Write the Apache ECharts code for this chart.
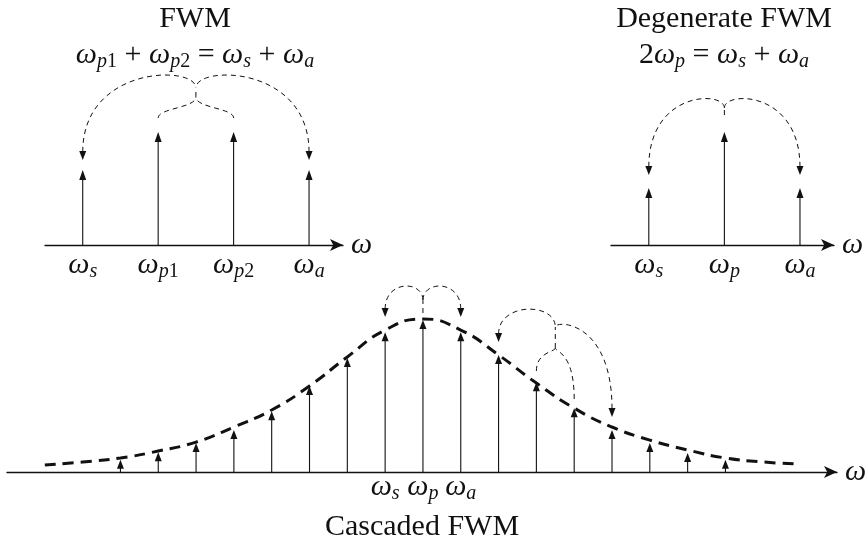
<!DOCTYPE html>
<html><head><meta charset="utf-8">
<script src="https://cdn.jsdelivr.net/npm/echarts@6/dist/echarts.min.js"></script>
<style>html,body{margin:0;padding:0;background:#fff}#c{width:868px;height:546px}</style>
</head><body><div id="c"></div>
<script>
const SERIF = '"Liberation Serif", "DejaVu Serif", serif';
const INK = '#111';

// ---- FWM (non-degenerate) ----
const fwmFreq = [1, 2, 3, 4];
const fwmAmp = [0.664, 1.0, 1.0, 0.664];
const fwmLabels = ['s', 'p1', 'p2', 'a'];
// arcs: [fromFreq, fromAmp, toFreq, toAmp, ctrlAmp, arrowAtStart]
const fwmArcs = [
  [1, 0.752, 2.5, 1.39, 1.593, 1],
  [4, 0.752, 2.5, 1.39, 1.593, 1],
  [2, 1.133, 2.5, 1.31, 1.212, 0],
  [3, 1.133, 2.5, 1.31, 1.212, 0]
];
const fwmStubs = [[2.5, 1.31, 1.39]];

// ---- Degenerate FWM ----
const degFreq = [1, 2, 3];
const degAmp = [0.504, 1.0, 0.504];
const degLabels = ['s', 'p', 'a'];
const degArcs = [
  [1, 0.62, 2, 1.212, 1.367, 1],
  [3, 0.62, 2, 1.212, 1.367, 1]
];
const degStubs = [[2, 1.15, 1.212]];

// ---- Cascaded FWM ----
const casFreq = [-8, -7, -6, -5, -4, -3, -2, -1, 0, 1, 2, 3, 4, 5, 6, 7, 8];
const casAmp = [0.08, 0.13, 0.19, 0.276, 0.40, 0.566, 0.75, 0.92, 1.0, 0.92, 0.77, 0.59, 0.42, 0.276, 0.19, 0.125, 0.08];
const envFreq = [-10, -9, -8, -7, -6, -5, -4, -3, -2, -1, 0, 1, 2, 3, 4, 5, 6, 7, 8, 9, 9.85];
const envAmp = [0.046, 0.066, 0.092, 0.138, 0.197, 0.296, 0.408, 0.566, 0.757, 0.934, 1.007, 0.934, 0.77, 0.585, 0.42, 0.296, 0.21, 0.145, 0.092, 0.066, 0.053];
const casLabelFreq = [-1, 0, 1];
const casLabels = ['s', 'p', 'a'];
const casArcs = [
  [-1, 1.02, 0, 1.13, 1.263, 1],
  [1, 1.02, 0, 1.13, 1.263, 1],
  [2, 0.855, 3.5, 0.954, 1.118, 1],
  [5, 0.362, 3.5, 0.954, 1.0, 1],
  [3, 0.671, 3.5, 0.816, 0.79, 0],
  [4, 0.487, 3.5, 0.816, 0.79, 0]
];
const casStubs = [[0, 1.046, 1.13], [3.5, 0.816, 0.954]];

const RICH = {
  w: { fontFamily: SERIF, fontSize: 30, fontStyle: 'italic', lineHeight: 30, verticalAlign: 'top', fill: INK, color: INK },
  s: { fontFamily: SERIF, fontSize: 20, fontStyle: 'italic', lineHeight: 20, padding: [12, 0, 0, 0], verticalAlign: 'top', fill: INK, color: INK },
  u: { fontFamily: SERIF, fontSize: 20, lineHeight: 20, padding: [12, 0, 0, 0], verticalAlign: 'top', fill: INK, color: INK },
  n: { fontFamily: SERIF, fontSize: 30, lineHeight: 30, verticalAlign: 'top', fill: INK, color: INK }
};
function omega(sub) {
  const m = sub.match(/^([a-z]+)(\d*)$/);
  return '{w|ω}{s|' + m[1] + '}' + (m[2] ? '{u|' + m[2] + '}' : '');
}

function stemRender(ahLen, ahW) {
  return function (params, api) {
    const x = api.value(0), y = api.value(1);
    const b = api.coord([x, 0]), t = api.coord([x, y]);
    return { type: 'group', children: [
      { type: 'line', shape: { x1: b[0], y1: b[1], x2: t[0], y2: t[1] + ahLen - 1 }, style: { stroke: INK, lineWidth: 1.1 } },
      { type: 'polygon', shape: { points: [[t[0], t[1]], [t[0] - ahW / 2, t[1] + ahLen], [t[0] + ahW / 2, t[1] + ahLen]] }, style: { fill: INK } }
    ] };
  };
}
function labelRender(labels, dy) {
  return function (params, api) {
    const b = api.coord([api.value(0), 0]);
    return { type: 'text', x: b[0], y: b[1] + dy,
      style: { text: omega(labels[params.dataIndex]), rich: RICH, align: 'center', verticalAlign: 'top', fill: INK } };
  };
}
function arcRender(params, api) {
  const x0 = api.value(0), y0 = api.value(1), x3 = api.value(2), y3 = api.value(3), c = api.value(4), arrow = api.value(5);
  const p0 = api.coord([x0, y0]), p1 = api.coord([x0, c]), p2 = api.coord([x3, c]), p3 = api.coord([x3, y3]);
  const ah = arrow ? 9 : 0;
  const children = [{ type: 'bezierCurve',
    shape: { x1: p0[0], y1: p0[1] - ah + 1, cpx1: p1[0], cpy1: p1[1], cpx2: p2[0], cpy2: p2[1], x2: p3[0], y2: p3[1] },
    style: { stroke: INK, fill: null, lineWidth: 1, lineDash: [5, 4] } }];
  if (arrow) children.push({ type: 'polygon',
    shape: { points: [[p0[0], p0[1]], [p0[0] - 3.5, p0[1] - ah], [p0[0] + 3.5, p0[1] - ah]] }, style: { fill: INK } });
  return { type: 'group', children };
}
function stubRender(params, api) {
  const a = api.coord([api.value(0), api.value(1)]), b = api.coord([api.value(0), api.value(2)]);
  return { type: 'line', shape: { x1: a[0], y1: a[1], x2: b[0], y2: b[1] }, style: { stroke: INK, lineWidth: 1, lineDash: [5, 4] } };
}

function xAxisDef(gi, min, max) {
  return { type: 'value', gridIndex: gi, min, max, name: 'ω', nameLocation: 'end', nameGap: 8,
    nameTextStyle: { fontFamily: SERIF, fontSize: 30, fontStyle: 'italic', color: INK, align: 'left', verticalAlign: 'middle', padding: [0, 0, 6, 0] },
    axisLine: { show: true, onZero: false, symbol: ['none', 'arrow'], symbolSize: [9, 13], lineStyle: { color: INK, width: 1.3 } },
    axisTick: { show: false }, axisLabel: { show: false }, splitLine: { show: false } };
}
function yAxisDef(gi, max) {
  return { type: 'value', gridIndex: gi, min: 0, max, show: false, splitLine: { show: false } };
}
const zip = (a, b) => a.map((v, i) => [v, b[i]]);
function custom(gi, data, renderItem) {
  return { type: 'custom', xAxisIndex: gi, yAxisIndex: gi, data, renderItem, silent: true, clip: false };
}

const chart = echarts.init(document.getElementById('c'), null, { renderer: 'canvas' });
chart.setOption({
  animation: false,
  backgroundColor: '#fff',
  grid: [
    { left: 45, width: 298, top: 19, height: 226, containLabel: false, outerBoundsMode: 'none' },
    { left: 611, width: 223, top: 19, height: 226, containLabel: false, outerBoundsMode: 'none' },
    { left: 7, width: 830, top: 274.4, height: 197.6, containLabel: false, outerBoundsMode: 'none' }
  ],
  xAxis: [xAxisDef(0, 0.5, 4.45), xAxisDef(1, 0.5, 3.45), xAxisDef(2, -11, 10.95)],
  yAxis: [yAxisDef(0, 2), yAxisDef(1, 2), yAxisDef(2, 1.3)],
  graphic: [
    { type: 'text', x: 195, y: 4, style: { text: 'FWM', fontFamily: SERIF, fontSize: 30, fill: INK, align: 'center', verticalAlign: 'top' } },
    { type: 'text', x: 195, y: 40, style: { text: omega('p1') + '{n| + }' + omega('p2') + '{n| = }' + omega('s') + '{n| + }' + omega('a'), rich: RICH, align: 'center', verticalAlign: 'top' } },
    { type: 'text', x: 724, y: 4, style: { text: 'Degenerate FWM', fontFamily: SERIF, fontSize: 30, fill: INK, align: 'center', verticalAlign: 'top' } },
    { type: 'text', x: 724, y: 40, style: { text: '{n|2}' + omega('p') + '{n| = }' + omega('s') + '{n| + }' + omega('a'), rich: RICH, align: 'center', verticalAlign: 'top' } },
    { type: 'text', x: 422, y: 512, style: { text: 'Cascaded FWM', fontFamily: SERIF, fontSize: 30, fill: INK, align: 'center', verticalAlign: 'top' } }
  ],
  series: [
    custom(0, zip(fwmFreq, fwmAmp), stemRender(10, 7)),
    custom(0, fwmFreq.map(v => [v, 0]), labelRender(fwmLabels, 5)),
    custom(0, fwmArcs, arcRender),
    custom(0, fwmStubs, stubRender),
    custom(1, zip(degFreq, degAmp), stemRender(10, 7)),
    custom(1, degFreq.map(v => [v, 0]), labelRender(degLabels, 5)),
    custom(1, degArcs, arcRender),
    custom(1, degStubs, stubRender),
    { type: 'line', xAxisIndex: 2, yAxisIndex: 2, data: zip(envFreq, envAmp), smooth: 0.5, showSymbol: false, silent: true,
      lineStyle: { color: INK, width: 3, type: [11, 7] } },
    custom(2, zip(casFreq, casAmp), stemRender(9, 7)),
    custom(2, casLabelFreq.map(v => [v, 0]), labelRender(casLabels, 0)),
    custom(2, casArcs, arcRender),
    custom(2, casStubs, stubRender)
  ]
});
</script></body></html>
